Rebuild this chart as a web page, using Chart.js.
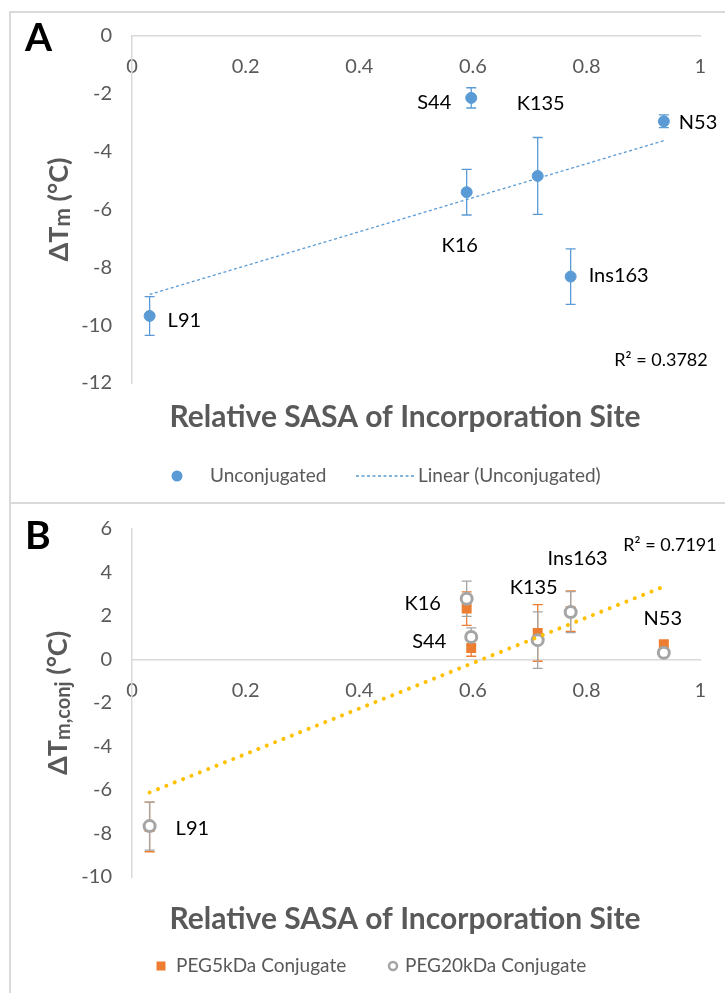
<!DOCTYPE html>
<html>
<head>
<meta charset="utf-8">
<script src="https://cdn.jsdelivr.net/npm/chart.js@4.4.1/dist/chart.umd.min.js"></script>
<style>
  html, body { margin: 0; padding: 0; background: #fff; }
  #page { position: relative; width: 725px; height: 993px; overflow: hidden; }
  .frame { position: absolute; border: 2px solid #d9d9d9; box-sizing: border-box; }
  canvas { position: absolute; left: 0; top: 0; }
</style>
</head>
<body>
<div id="page">
  <div class="frame" style="left:9px;top:11px;width:740px;height:493px"></div>
  <div class="frame" style="left:9px;top:502px;width:740px;height:520px"></div>
  <canvas id="chartA" width="725" height="993"></canvas>
  <canvas id="chartB" width="725" height="993"></canvas>
</div>
<script>
// Incorporation sites and their relative solvent-accessible surface area
const sites = ['L91', 'K16', 'S44', 'K135', 'Ins163', 'N53'];
const relSasa = [0.031, 0.589, 0.597, 0.714, 0.772, 0.936];

// Panel A: melting-temperature shift of the unconjugated variants (°C)
const dTmUnconj = [-9.68, -5.40, -2.14, -4.84, -8.32, -2.95];
const dTmUnconjErr = [0.67, 0.79, 0.35, 1.33, 0.96, 0.22];

// Panel B: melting-temperature shift after PEG conjugation (°C)
const dTmPeg5 = [-7.70, 2.34, 0.53, 1.22, 2.22, 0.70];
const dTmPeg5Err = [1.14, 0.77, 0.38, 1.30, 0.93, 0.12];
const dTmPeg20 = [-7.66, 2.79, 1.04, 0.89, 2.18, 0.31];
const dTmPeg20Err = [1.10, 0.81, 0.41, 1.30, 0.94, 0.10];

// Axis ticks
const xTicks = [0, 0.2, 0.4, 0.6, 0.8, 1];
const xTickLabels = ['0', '0.2', '0.4', '0.6', '0.8', '1'];
const yTicksA = [0, -2, -4, -6, -8, -10, -12];
const yTicksB = [6, 4, 2, 0, -2, -4, -6, -8, -10];

// Trendline fit quality
const r2TextA = 'R² = 0.3782';
const r2TextB = 'R² = 0.7191';

const FONT = 'Lato, "Open Sans", sans-serif';
const AXIS_GREY = '#595959';
const LINE_GREY = '#d9d9d9';
const BLUE = '#5B9BD5';
const ORANGE = '#ED7D31';
const GREY = '#A5A5A5';
const GOLD = '#FFC000';

function pts(xs, ys) { return xs.map((x, i) => ({ x, y: ys[i] })); }

// Least-squares line through a set of points, spanning their x range
function linearFit(points) {
  const n = points.length;
  const mx = points.reduce((s, p) => s + p.x, 0) / n;
  const my = points.reduce((s, p) => s + p.y, 0) / n;
  let sxy = 0, sxx = 0;
  points.forEach(p => { sxy += (p.x - mx) * (p.y - my); sxx += (p.x - mx) ** 2; });
  const slope = sxy / sxx, icpt = my - slope * mx;
  const xmin = Math.min(...points.map(p => p.x));
  const xmax = Math.max(...points.map(p => p.x));
  return [{ x: xmin, y: icpt + slope * xmin }, { x: xmax, y: icpt + slope * xmax }];
}

// Vertical error bars with caps, drawn beneath the markers
const errorBars = {
  id: 'errorBars',
  beforeDatasetsDraw(chart) {
    const { ctx, scales: { x, y } } = chart;
    chart.data.datasets.forEach(ds => {
      if (!ds.errors) return;
      ctx.save();
      ctx.strokeStyle = ds.errorColor;
      ctx.lineWidth = 1.3;
      ds.data.forEach((p, j) => {
        const e = ds.errors[j];
        const px = x.getPixelForValue(p.x);
        const top = y.getPixelForValue(p.y + e);
        const bot = y.getPixelForValue(p.y - e);
        ctx.beginPath();
        ctx.moveTo(px, top); ctx.lineTo(px, bot);
        ctx.moveTo(px - 5, top); ctx.lineTo(px + 5, top);
        ctx.moveTo(px - 5, bot); ctx.lineTo(px + 5, bot);
        ctx.stroke();
      });
      ctx.restore();
    });
  }
};

// Draws a run of text segments (some smaller / lowered) centred on a point
function richText(ctx, parts, cx, cy, angle, color) {
  ctx.save();
  ctx.translate(cx, cy);
  ctx.rotate(angle);
  ctx.fillStyle = color;
  ctx.textBaseline = 'alphabetic';
  let total = 0;
  parts.forEach(p => { ctx.font = p.font; p.w = ctx.measureText(p.t).width; total += p.w; });
  let xx = -total / 2;
  parts.forEach(p => { ctx.font = p.font; ctx.fillText(p.t, xx, 9 + (p.dy || 0)); xx += p.w; });
  ctx.restore();
}

function text(ctx, t, x, y, font, color, align) {
  ctx.save();
  ctx.font = font; ctx.fillStyle = color;
  ctx.textAlign = align || 'left'; ctx.textBaseline = 'middle';
  ctx.fillText(t, x, y);
  ctx.restore();
}

// Panel decorations: site labels, R², axis titles, legend and panel letter
function decor(cfg) {
  return {
    id: 'decor',
    afterDraw(chart) {
      const { ctx, scales: { x, y } } = chart;
      const ref = chart.data.datasets[cfg.labelDataset].data;
      sites.forEach((s, i) => {
        const o = cfg.labelOffsets[s];
        const px = x.getPixelForValue(ref[i].x) + o.dx;
        const py = y.getPixelForValue(ref[i].y) + o.dy;
        text(ctx, s, px, py, '20px ' + FONT, '#000', o.align);
      });
      text(ctx, cfg.r2.t, cfg.r2.x, cfg.r2.y, '18px ' + FONT, '#000', 'center');
      text(ctx, cfg.letter.t, cfg.letter.x, cfg.letter.y, 'bold 39px ' + FONT, '#000', 'left');
      text(ctx, 'Relative SASA of Incorporation Site', cfg.xTitle.x, cfg.xTitle.y,
        'bold 30px ' + FONT, AXIS_GREY, 'center');
      richText(ctx, cfg.yTitle.parts, cfg.yTitle.x, cfg.yTitle.y, -Math.PI / 2, AXIS_GREY);
      cfg.legend(ctx, chart);
    }
  };
}

function baseOptions(yTicks, padTop, padBottom) {
  return {
    responsive: false,
    animation: false,
    devicePixelRatio: 1,
    layout: { autoPadding: false, padding: { left: 0, right: 18, top: padTop, bottom: padBottom } },
    plugins: { legend: { display: false }, tooltip: { enabled: false } },
    scales: {
      x: {
        type: 'linear', min: 0, max: 1, position: { y: 0 },
        afterBuildTicks: s => { s.ticks = xTicks.map(v => ({ value: v })); },
        ticks: {
          color: AXIS_GREY, font: { family: FONT, size: 20 }, padding: 19,
          callback: v => xTickLabels[xTicks.indexOf(v)]
        },
        grid: { display: false, drawTicks: false },
        border: { display: true, color: LINE_GREY, width: 1.5 }
      },
      y: {
        type: 'linear', min: Math.min(...yTicks), max: Math.max(...yTicks), position: 'left',
        afterBuildTicks: s => { s.ticks = yTicks.map(v => ({ value: v })); },
        afterFit: s => { s.width = 132; },
        ticks: { color: AXIS_GREY, font: { family: FONT, size: 20 }, padding: 20 },
        grid: { display: false, drawTicks: false },
        border: { display: true, color: LINE_GREY, width: 1.5 }
      }
    }
  };
}

// ---------- Panel A ----------
const unconjPts = pts(relSasa, dTmUnconj);
new Chart(document.getElementById('chartA'), {
  type: 'scatter',
  data: {
    datasets: [
      {
        label: 'Linear (Unconjugated)', data: linearFit(unconjPts), showLine: true,
        borderColor: BLUE, borderWidth: 1.3, borderDash: [3, 2.5], pointRadius: 0, order: 0
      },
      {
        label: 'Unconjugated', data: unconjPts, errors: dTmUnconjErr, errorColor: BLUE,
        pointStyle: 'circle', pointRadius: 5.5, pointBackgroundColor: BLUE,
        pointBorderColor: BLUE, pointBorderWidth: 1, order: 1
      }
    ]
  },
  options: baseOptions(yTicksA, 36, 993 - 383),
  plugins: [errorBars, decor({
    labelDataset: 1,
    labelOffsets: {
      L91: { dx: 18, dy: 5, align: 'left' },
      K16: { dx: -7, dy: 53, align: 'center' },
      S44: { dx: -37, dy: 5, align: 'center' },
      K135: { dx: 3, dy: -72, align: 'center' },
      Ins163: { dx: 18, dy: -1, align: 'left' },
      N53: { dx: 15, dy: 1, align: 'left' }
    },
    r2: { t: r2TextA, x: 661, y: 360 },
    letter: { t: 'A', x: 25, y: 38 },
    xTitle: { x: 405, y: 417 },
    yTitle: {
      x: 59, y: 209.5, parts: [
        { t: 'ΔT', font: 'bold 27px ' + FONT },
        { t: 'm', font: 'bold 22px ' + FONT, dy: 2 },
        { t: ' (°C)', font: 'bold 27px ' + FONT }
      ]
    },
    legend(ctx, chart) {
      const ds = chart.data.datasets;
      ctx.save();
      ctx.fillStyle = BLUE;
      ctx.beginPath(); ctx.arc(177, 476, 5.5, 0, Math.PI * 2); ctx.fill();
      ctx.strokeStyle = BLUE; ctx.lineWidth = 1.3; ctx.setLineDash([3, 2.5]);
      ctx.beginPath(); ctx.moveTo(356, 476); ctx.lineTo(414, 476); ctx.stroke();
      ctx.restore();
      text(ctx, ds[1].label, 210, 476, '19px ' + FONT, AXIS_GREY, 'left');
      text(ctx, ds[0].label, 418, 476, '19px ' + FONT, AXIS_GREY, 'left');
    }
  })]
});

// ---------- Panel B ----------
const peg5Pts = pts(relSasa, dTmPeg5);
const peg20Pts = pts(relSasa, dTmPeg20);
new Chart(document.getElementById('chartB'), {
  type: 'scatter',
  data: {
    datasets: [
      {
        label: 'PEG5kDa Conjugate', data: peg5Pts, errors: dTmPeg5Err, errorColor: ORANGE,
        pointStyle: 'rect', pointRadius: 7, pointBackgroundColor: ORANGE,
        pointBorderColor: ORANGE, pointBorderWidth: 0, order: 2
      },
      {
        label: 'PEG20kDa Conjugate', data: peg20Pts, errors: dTmPeg20Err, errorColor: GREY,
        pointStyle: 'circle', pointRadius: 5.5, pointBackgroundColor: '#fff',
        pointBorderColor: GREY, pointBorderWidth: 3, order: 1
      },
      {
        label: 'Linear (Conjugates)', data: linearFit(peg5Pts.concat(peg20Pts)), showLine: true,
        borderColor: GOLD, borderWidth: 4, borderDash: [0.01, 9], borderCapStyle: 'round',
        pointRadius: 0, order: 0
      }
    ]
  },
  options: baseOptions(yTicksB, 529, 993 - 877),
  plugins: [errorBars, decor({
    labelDataset: 1,
    labelOffsets: {
      L91: { dx: 26, dy: 2, align: 'left' },
      K16: { dx: -44, dy: 5, align: 'center' },
      S44: { dx: -42, dy: 5, align: 'center' },
      K135: { dx: -4, dy: -53, align: 'center' },
      Ins163: { dx: 7, dy: -54, align: 'center' },
      N53: { dx: -1, dy: -34, align: 'center' }
    },
    r2: { t: r2TextB, x: 670, y: 545 },
    letter: { t: 'B', x: 25, y: 536 },
    xTitle: { x: 405, y: 919 },
    yTitle: {
      x: 58, y: 703, parts: [
        { t: 'ΔT', font: 'bold 27px ' + FONT },
        { t: 'm,conj', font: 'bold 20px ' + FONT, dy: 3 },
        { t: ' (°C)', font: 'bold 27px ' + FONT }
      ]
    },
    legend(ctx, chart) {
      const ds = chart.data.datasets;
      ctx.save();
      ctx.fillStyle = ORANGE;
      ctx.fillRect(156.5, 961.5, 9, 9);
      ctx.strokeStyle = GREY; ctx.lineWidth = 2.5;
      ctx.beginPath(); ctx.arc(393, 966, 4, 0, Math.PI * 2); ctx.stroke();
      ctx.restore();
      text(ctx, ds[0].label, 176, 966, '19px ' + FONT, AXIS_GREY, 'left');
      text(ctx, ds[1].label, 405, 966, '19px ' + FONT, AXIS_GREY, 'left');
    }
  })]
});
</script>
</body>
</html>
